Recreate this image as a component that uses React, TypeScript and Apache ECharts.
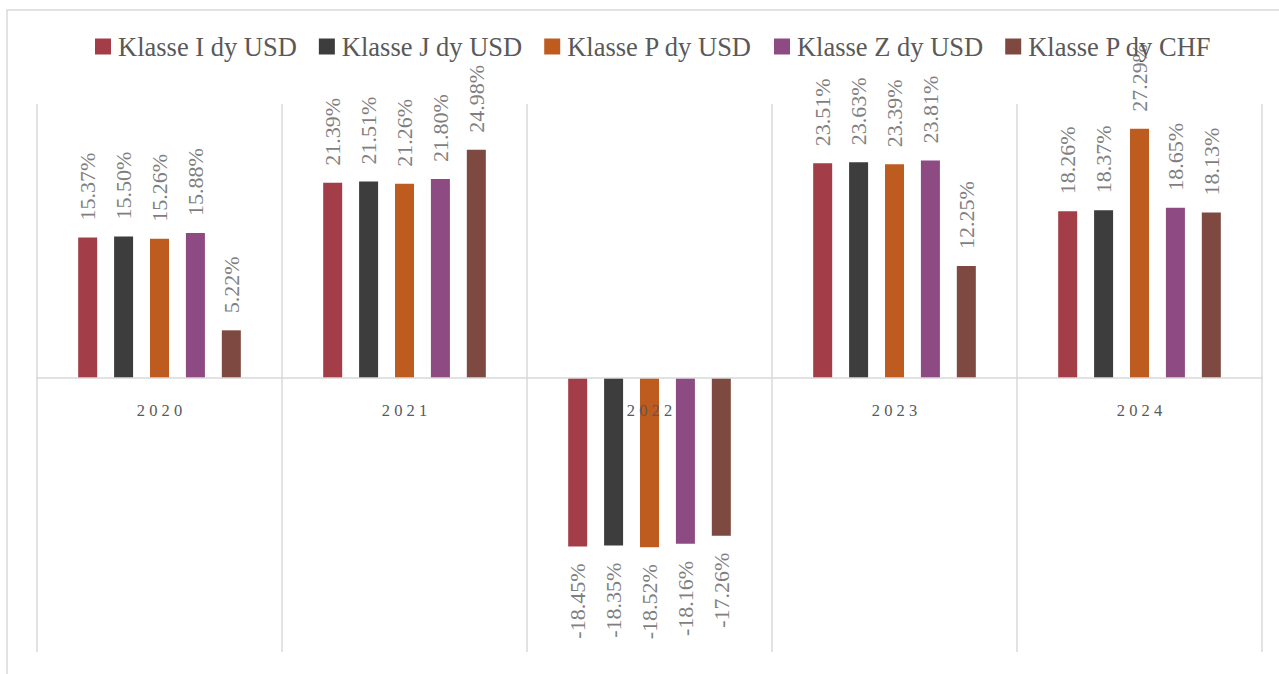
import React, { useEffect, useRef } from "react";
import * as echarts from "echarts";

const categories = ["2020", "2021", "2022", "2023", "2024"];
const seriesNames = [
  "Klasse I dy USD",
  "Klasse J dy USD",
  "Klasse P dy USD",
  "Klasse Z dy USD",
  "Klasse P dy CHF",
];
const klasseI = [15.37, 21.39, -18.45, 23.51, 18.26];
const klasseJ = [15.5, 21.51, -18.35, 23.63, 18.37];
const klasseP = [15.26, 21.26, -18.52, 23.39, 27.29];
const klasseZ = [15.88, 21.8, -18.16, 23.81, 18.65];
const klassePChf = [5.22, 24.98, -17.26, 12.25, 18.13];
const colors = ["#A33E48", "#3D3D3D", "#BE5B1E", "#8E4B83", "#7E4940"];

const FONT = "'Liberation Serif', 'Times New Roman', serif";

export default function App() {
  const ref = useRef<HTMLDivElement>(null);
  useEffect(() => {
    if (!ref.current) return;
    const chart = echarts.init(ref.current, null, { renderer: "svg" });
    const allValues = [klasseI, klasseJ, klasseP, klasseZ, klassePChf];
    const series = allValues.map((vals, i) => ({
      name: seriesNames[i],
      type: "bar",
      barWidth: 19,
      barGap: "89%",
      itemStyle: { color: colors[i] },
      data: vals.map((v) => ({
        value: v,
        label:
          v >= 0
            ? { position: "top", align: "left", verticalAlign: "middle" }
            : { position: "bottom", align: "right", verticalAlign: "middle" },
      })),
      label: {
        show: true,
        rotate: 90,
        distance: 17,
        color: "#7F7F7F",
        fontFamily: FONT,
        fontSize: 22,
        formatter: (p: any) => p.value.toFixed(2) + "%",
      },
    }));
    chart.setOption({
      animation: false,
      backgroundColor: "#ffffff",
      graphic: [
        {
          type: "rect",
          shape: { x: 7, y: 10, width: 1400, height: 800 },
          style: { fill: "none", stroke: "#D9D9D9", lineWidth: 1.5 },
          silent: true,
        },
      ],
      legend: {
        top: 28,
        left: 90,
        itemWidth: 16,
        itemHeight: 16,
        itemGap: 22,
        icon: "rect",
        textStyle: { fontFamily: FONT, fontSize: 26.5, color: "#595959", padding: [0, 0, 0, 2] },
        data: seriesNames,
      },
      grid: {
        left: 37,
        right: 17,
        top: 104,
        bottom: 22,
        containLabel: false,
        outerBoundsMode: "none",
      },
      xAxis: {
        type: "category",
        data: categories,
        offset: -274,
        z: 5,
        axisLine: { onZero: false, lineStyle: { color: "#D9D9D9", width: 1.5 } },
        axisTick: { show: false },
        splitLine: { show: true, lineStyle: { color: "#D9D9D9", width: 1.5 } },
        axisLabel: {
          margin: 24,
          fontFamily: FONT,
          fontSize: 16.5,
          color: "#595959",
          formatter: (v: string) => v.split("").join(" "),
        },
      },
      yAxis: {
        type: "value",
        min: -30,
        max: 30,
        interval: 10,
        axisLabel: { show: false },
        axisLine: { show: false },
        axisTick: { show: false },
        splitLine: { show: false },
      },
      series,
    });
    return () => chart.dispose();
  }, []);
  return (
    <div
      ref={ref}
      style={{ position: "fixed", left: 0, top: 0, width: 1279, height: 674 }}
    />
  );
}
